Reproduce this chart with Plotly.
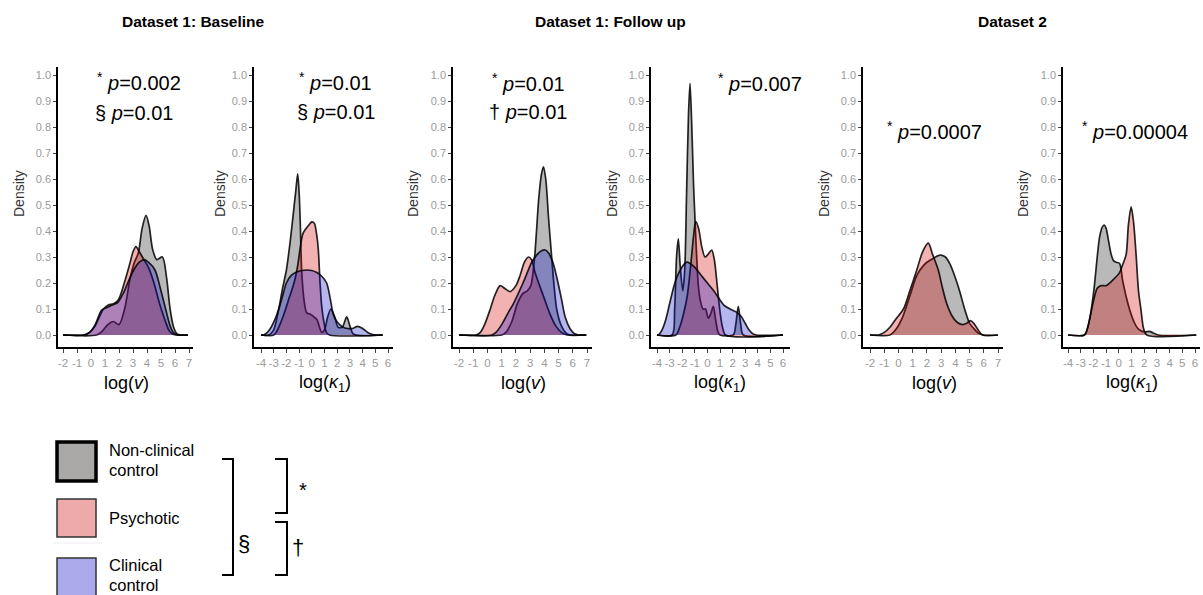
import plotly.graph_objects as go

W, H = 1203, 595

# ---------------- data ----------------
TITLES = ["Dataset 1: Baseline", "Dataset 1: Follow up", "Dataset 2"]
XLABEL_V = "log(<i>v</i>)"
XLABEL_K = "log(<i>κ</i><sub>1</sub>)"
Y_TICKS = [0.0, 0.1, 0.2, 0.3, 0.4, 0.5, 0.6, 0.7, 0.8, 0.9, 1.0]
Y_TICK_LABELS = ["0.0", "0.1", "0.2", "0.3", "0.4", "0.5", "0.6", "0.7", "0.8", "0.9", "1.0"]
X_TICKS_V = [-2, -1, 0, 1, 2, 3, 4, 5, 6, 7]
X_TICK_LABELS_V = ["-2", "-1", "0", "1", "2", "3", "4", "5", "6", "7"]
X_TICKS_K = [-4, -3, -2, -1, 0, 1, 2, 3, 4, 5, 6]
X_TICK_LABELS_K = ["-4", "-3", "-2", "-1", "0", "1", "2", "3", "4", "5", "6"]
GROUPS = ["Non-clinical control", "Psychotic", "Clinical control"]

# Panel 1: Dataset 1 baseline, log(v)
p1_nc_x = [-2, 0.4, 0.8, 1.2, 1.6, 2.0, 2.4, 2.8, 3.1, 3.38, 3.65, 3.93, 4.15, 4.4, 4.7, 5.1, 5.4, 5.65, 5.9, 6.15, 6.93]
p1_nc_y = [0, 0, 0.015, 0.04, 0.052, 0.04, 0.1, 0.22, 0.28, 0.315, 0.41, 0.46, 0.42, 0.33, 0.29, 0.30, 0.22, 0.1, 0.03, 0.004, 0]
p1_ps_x = [-2, -0.5, -0.1, 0.3, 0.6, 0.9, 1.24, 1.6, 1.95, 2.43, 2.8, 3.0, 3.21, 3.45, 3.67, 4.1, 4.5, 4.9, 5.3, 5.6, 5.9, 6.93]
p1_ps_y = [0, 0, 0.01, 0.035, 0.07, 0.1, 0.115, 0.12, 0.135, 0.21, 0.28, 0.32, 0.34, 0.32, 0.30, 0.26, 0.2, 0.12, 0.055, 0.015, 0.002, 0]
p1_cc_x = [-2, -0.5, -0.1, 0.3, 0.76, 1.1, 1.5, 1.9, 2.3, 2.7, 3.1, 3.45, 3.81, 4.1, 4.57, 4.95, 5.4, 5.65, 5.9, 6.2, 6.93]
p1_cc_y = [0, 0, 0.01, 0.04, 0.096, 0.105, 0.115, 0.125, 0.16, 0.21, 0.255, 0.28, 0.29, 0.28, 0.25, 0.18, 0.085, 0.035, 0.008, 0, 0]

# Panel 2: Dataset 1 baseline, log(kappa1)
p2_nc_x = [-4, -3.4, -3.0, -2.6, -2.3, -2.0, -1.7, -1.45, -1.25, -1.11, -1.0, -0.9, -0.8, -0.6, -0.4, -0.1, 0.15, 0.4, 0.78, 1.0, 1.25, 1.5, 1.8, 2.07, 2.4, 2.75, 3.0, 3.3, 5.58]
p2_nc_y = [0, 0, 0.02, 0.1, 0.18, 0.25, 0.36, 0.47, 0.56, 0.62, 0.55, 0.42, 0.25, 0.13, 0.085, 0.08, 0.07, 0.06, 0.01, 0.02, 0.07, 0.1, 0.07, 0.03, 0.03, 0.07, 0.035, 0.003, 0]
p2_ps_x = [-4, -3.0, -2.6, -2.2, -1.8, -1.4, -1.1, -0.9, -0.7, -0.45, -0.2, 0.0, 0.2, 0.4, 0.51, 0.65, 0.78, 0.95, 1.15, 1.4, 5.58]
p2_ps_y = [0, 0, 0.03, 0.08, 0.14, 0.2, 0.27, 0.34, 0.39, 0.41, 0.425, 0.435, 0.43, 0.38, 0.33, 0.2, 0.11, 0.05, 0.01, 0, 0]
p2_cc_x = [-4, -3.8, -3.5, -3.2, -2.9, -2.6, -2.3, -2.0, -1.6, -1.2, -0.8, -0.4, 0.0, 0.4, 0.8, 1.17, 1.45, 1.69, 2.0, 2.46, 2.8, 3.2, 3.6, 4.0, 4.4, 4.8, 5.58]
p2_cc_y = [0, 0, 0.01, 0.03, 0.06, 0.1, 0.15, 0.2, 0.23, 0.242, 0.248, 0.25, 0.248, 0.24, 0.225, 0.2, 0.14, 0.08, 0.05, 0.03, 0.025, 0.025, 0.033, 0.025, 0.01, 0.002, 0]

# Panel 3: Dataset 1 follow up, log(v)
p3_nc_x = [-2, 1.0, 1.3, 1.7, 2.1, 2.5, 2.8, 3.05, 3.3, 3.45, 3.6, 3.8, 3.94, 4.1, 4.29, 4.53, 4.7, 4.88, 5.2, 5.58, 5.9, 6.95]
p3_nc_y = [0, 0, 0.01, 0.05, 0.12, 0.16, 0.17, 0.19, 0.29, 0.4, 0.52, 0.62, 0.647, 0.6, 0.455, 0.29, 0.18, 0.096, 0.035, 0.005, 0, 0]
p3_ps_x = [-2, -0.8, -0.5, -0.2, 0.2, 0.5, 0.89, 1.2, 1.59, 2.0, 2.3, 2.6, 2.88, 3.1, 3.35, 3.6, 4.0, 4.4, 4.8, 5.2, 5.6, 6.95]
p3_ps_y = [0, 0, 0.01, 0.04, 0.1, 0.15, 0.19, 0.18, 0.167, 0.19, 0.23, 0.28, 0.30, 0.29, 0.24, 0.2, 0.14, 0.08, 0.035, 0.01, 0, 0]
p3_cc_x = [-2, 0.3, 0.6, 1.0, 1.5, 1.82, 2.5, 3.12, 3.5, 3.8, 4.06, 4.3, 4.6, 4.88, 5.2, 5.46, 5.8, 6.1, 6.4, 6.95]
p3_cc_y = [0, 0, 0.01, 0.04, 0.09, 0.12, 0.2, 0.28, 0.31, 0.324, 0.327, 0.315, 0.28, 0.22, 0.14, 0.07, 0.025, 0.006, 0, 0]

# Panel 4: Dataset 1 follow up, log(kappa1)
p4_nc_x = [-4, -2.8, -2.6, -2.45, -2.31, -2.15, -1.95, -1.8, -1.65, -1.5, -1.38, -1.25, -1.1, -0.98, -0.85, -0.72, -0.55, -0.35, -0.15, 0.07, 0.25, 0.47, 0.65, 0.85, 1.0, 2.05, 2.25, 2.45, 2.65, 2.85, 6]
p4_nc_y = [0, 0, 0.1, 0.3, 0.37, 0.26, 0.17, 0.25, 0.55, 0.85, 0.968, 0.82, 0.58, 0.44, 0.3, 0.19, 0.13, 0.1, 0.1, 0.065, 0.08, 0.11, 0.06, 0.01, 0, 0, 0.04, 0.11, 0.04, 0, 0]
p4_ps_x = [-4, -2.5, -2.2, -1.9, -1.6, -1.3, -1.1, -0.93, -0.7, -0.45, -0.19, 0.05, 0.34, 0.55, 0.8, 1.0, 1.2, 1.45, 6]
p4_ps_y = [0, 0, 0.03, 0.08, 0.15, 0.28, 0.38, 0.436, 0.41, 0.34, 0.3, 0.31, 0.327, 0.29, 0.18, 0.09, 0.03, 0, 0]
p4_cc_x = [-4, -3.9, -3.6, -3.3, -3.0, -2.7, -2.44, -2.1, -1.8, -1.57, -1.3, -1.0, -0.5, 0.0, 0.5, 1.0, 1.3, 1.8, 2.3, 2.7, 3.0, 3.3, 3.6, 3.9, 6]
p4_cc_y = [0, 0, 0.02, 0.06, 0.12, 0.18, 0.22, 0.255, 0.275, 0.28, 0.272, 0.26, 0.23, 0.2, 0.17, 0.135, 0.115, 0.1, 0.088, 0.07, 0.045, 0.02, 0.005, 0, 0]

# Panel 5: Dataset 2, log(v)
p5_nc_x = [-2, -0.6, -0.2, 0.3, 0.8, 1.3, 1.8, 2.3, 2.93, 3.3, 3.65, 4.0, 4.35, 4.6, 4.8, 5.0, 5.3, 5.6, 6.0, 7]
p5_nc_y = [0, 0, 0.02, 0.07, 0.15, 0.23, 0.27, 0.29, 0.307, 0.3, 0.27, 0.22, 0.16, 0.11, 0.075, 0.045, 0.025, 0.008, 0, 0]
p5_ps_x = [-2, -1.4, -1.0, -0.6, -0.2, 0.35, 0.8, 1.29, 1.7, 2.1, 2.4, 2.8, 3.1, 3.4, 3.75, 4.1, 4.5, 4.8, 5.05, 5.3, 5.6, 5.9, 7]
p5_ps_y = [0, 0, 0.01, 0.03, 0.06, 0.1, 0.17, 0.25, 0.32, 0.353, 0.31, 0.25, 0.18, 0.12, 0.075, 0.05, 0.04, 0.045, 0.055, 0.045, 0.02, 0, 0]

# Panel 6: Dataset 2, log(kappa1)
p6_nc_x = [-4, -2.7, -2.5, -2.3, -2.1, -1.9, -1.7, -1.5, -1.3, -1.16, -1.0, -0.8, -0.6, -0.4, -0.2, 0.06, 0.3, 0.58, 0.9, 1.2, 1.5, 1.8, 2.1, 2.4, 2.7, 3.1, 6.1]
p6_nc_y = [0, 0, 0.02, 0.06, 0.12, 0.2, 0.3, 0.38, 0.415, 0.423, 0.41, 0.36, 0.31, 0.285, 0.28, 0.275, 0.21, 0.147, 0.09, 0.05, 0.025, 0.015, 0.012, 0.014, 0.008, 0, 0]
p6_ps_x = [-4, -2.7, -2.5, -2.3, -2.0, -1.7, -1.4, -1.0, -0.5, 0.06, 0.3, 0.58, 0.75, 0.97, 1.15, 1.36, 1.55, 1.75, 1.95, 2.2, 6.1]
p6_ps_y = [0, 0, 0.02, 0.06, 0.13, 0.18, 0.19, 0.19, 0.21, 0.24, 0.27, 0.31, 0.42, 0.493, 0.44, 0.31, 0.17, 0.096, 0.025, 0, 0]

P_TEXTS = [
    ["<sup>*</sup> <i>p</i>=0.002", "§ <i>p</i>=0.01"],
    ["<sup>*</sup> <i>p</i>=0.01", "§ <i>p</i>=0.01"],
    ["<sup>*</sup> <i>p</i>=0.01", "† <i>p</i>=0.01"],
    ["<sup>*</sup> <i>p</i>=0.007"],
    ["<sup>*</sup> <i>p</i>=0.0007"],
    ["<sup>*</sup> <i>p</i>=0.00004"],
]

# ---------------- styles ----------------
FILL = {
    "Non-clinical control": "rgba(128,128,128,0.55)",
    "Psychotic": "rgba(215,0,0,0.3)",
    "Clinical control": "rgba(20,20,200,0.31)",
}
LINE_COLOR = "rgba(0,0,0,0.85)"
FONT = "Liberation Sans, Arial, Helvetica, sans-serif"


def px_x(p):
    return p / W


def px_y(p):
    return 1 - p / H


# pixel geometry of each panel: axis left, first tick px, last tick px, axis right
geom = [
    (58, 63, 189, 193),
    (254, 261, 388, 393),
    (453, 459, 587, 592),
    (651, 657, 783, 790),
    (863, 870, 998, 1003),
    (1063, 1068, 1195, 1200),
]
AX_TOP, AX_BOTTOM, Y0_PX, Y1_PX = 67, 347, 335, 75

panels = [
    dict(ticks=X_TICKS_V, labels=X_TICK_LABELS_V, xlabel=XLABEL_V,
         curves=[(GROUPS[0], p1_nc_x, p1_nc_y), (GROUPS[1], p1_ps_x, p1_ps_y), (GROUPS[2], p1_cc_x, p1_cc_y)]),
    dict(ticks=X_TICKS_K, labels=X_TICK_LABELS_K, xlabel=XLABEL_K,
         curves=[(GROUPS[0], p2_nc_x, p2_nc_y), (GROUPS[1], p2_ps_x, p2_ps_y), (GROUPS[2], p2_cc_x, p2_cc_y)]),
    dict(ticks=X_TICKS_V, labels=X_TICK_LABELS_V, xlabel=XLABEL_V,
         curves=[(GROUPS[0], p3_nc_x, p3_nc_y), (GROUPS[1], p3_ps_x, p3_ps_y), (GROUPS[2], p3_cc_x, p3_cc_y)]),
    dict(ticks=X_TICKS_K, labels=X_TICK_LABELS_K, xlabel=XLABEL_K,
         curves=[(GROUPS[0], p4_nc_x, p4_nc_y), (GROUPS[1], p4_ps_x, p4_ps_y), (GROUPS[2], p4_cc_x, p4_cc_y)]),
    dict(ticks=X_TICKS_V, labels=X_TICK_LABELS_V, xlabel=XLABEL_V,
         curves=[(GROUPS[0], p5_nc_x, p5_nc_y), (GROUPS[1], p5_ps_x, p5_ps_y)]),
    dict(ticks=X_TICKS_K, labels=X_TICK_LABELS_K, xlabel=XLABEL_K,
         curves=[(GROUPS[0], p6_nc_x, p6_nc_y), (GROUPS[1], p6_ps_x, p6_ps_y)]),
]

density_x = [19, 220, 413, 612, 824, 1023]
ptext_pos = [
    [(95, 82), (93, 113)],
    [(297, 82), (295, 112)],
    [(490, 83), (487, 112)],
    [(716, 83)],
    [(885, 130)],
    [(1080, 130)],
]

fig = go.Figure()
layout = dict(
    width=W, height=H, margin=dict(l=0, r=0, t=0, b=0),
    paper_bgcolor="white", plot_bgcolor="white",
    showlegend=False, font=dict(family=FONT, color="black"),
)
annotations = []
shapes = []

y_per_px = 1.0 / (Y0_PX - Y1_PX)
y_range = [-(AX_BOTTOM - Y0_PX) * y_per_px, 1 + (Y1_PX - AX_TOP) * y_per_px]

for i, (p, g) in enumerate(zip(panels, geom), start=1):
    left, t0, t1, right = g
    ticks = p["ticks"]
    upp = (ticks[-1] - ticks[0]) / (t1 - t0)
    x_range = [ticks[0] - (t0 - left) * upp, ticks[-1] + (right - t1) * upp]
    xa = "x" if i == 1 else f"x{i}"
    ya = "y" if i == 1 else f"y{i}"
    for name, xs, ys in p["curves"]:
        fig.add_trace(go.Scatter(
            x=xs, y=ys, xaxis=xa, yaxis=ya, mode="lines", name=name,
            fill="tozeroy", fillcolor=FILL[name],
            line=dict(color=LINE_COLOR, width=1.7, shape="spline", smoothing=0.8),
            hoverinfo="skip",
        ))
    key = "" if i == 1 else str(i)
    layout["xaxis" + key] = dict(
        domain=[px_x(left), px_x(right)], range=x_range, anchor=ya,
        tickmode="array", tickvals=ticks, ticktext=p["labels"],
        showline=True, linecolor="black", linewidth=1.5,
        ticks="outside", ticklen=4, tickwidth=1, tickcolor="#444",
        tickfont=dict(size=11.5, color="#9a9a9a", family=FONT),
        showgrid=False, zeroline=False, fixedrange=True,
    )
    layout["yaxis" + key] = dict(
        domain=[px_y(AX_BOTTOM), px_y(AX_TOP)], range=y_range, anchor=xa,
        tickmode="array", tickvals=Y_TICKS, ticktext=Y_TICK_LABELS,
        showline=True, linecolor="black", linewidth=1.5,
        ticks="outside", ticklen=3, tickwidth=1, tickcolor="#444",
        tickfont=dict(size=11, color="#9a9a9a", family=FONT),
        showgrid=False, zeroline=False, fixedrange=True,
    )
    # x-axis title
    annotations.append(dict(
        text=p["xlabel"], x=px_x((t0 + t1) / 2), y=px_y(383), xref="paper", yref="paper",
        xanchor="center", yanchor="middle", showarrow=False,
        font=dict(size=18, color="black", family=FONT),
    ))
    # y-axis title
    annotations.append(dict(
        text="Density", x=px_x(density_x[i - 1]), y=px_y(194), xref="paper", yref="paper",
        xanchor="center", yanchor="middle", showarrow=False, textangle=-90,
        font=dict(size=14, color="#333", family=FONT),
    ))
    for txt, (tx, ty) in zip(P_TEXTS[i - 1], ptext_pos[i - 1]):
        annotations.append(dict(
            text=txt, x=px_x(tx), y=px_y(ty), xref="paper", yref="paper",
            xanchor="left", yanchor="middle", showarrow=False,
            font=dict(size=20, color="black", family=FONT),
        ))

# section titles
for title, cx in zip(TITLES, [193, 610, 1012]):
    annotations.append(dict(
        text=f"<b>{title}</b>", x=px_x(cx), y=px_y(22), xref="paper", yref="paper",
        xanchor="center", yanchor="middle", showarrow=False,
        font=dict(size=15.5, color="black", family=FONT),
    ))

# legend squares
legend_boxes = [
    (GROUPS[0], 442, 481, 3.5, "#aaa7a7", "black"),
    (GROUPS[1], 499, 537, 1.5, "#eeaaaa", "#333"),
    (GROUPS[2], 558, 598, 1.5, "#aaaaea", "#333"),
]
for name, top, bottom, lw, fc, lc in legend_boxes:
    shapes.append(dict(
        type="rect", xref="paper", yref="paper",
        x0=px_x(57), x1=px_x(96), y0=px_y(bottom), y1=px_y(top),
        fillcolor=fc, line=dict(color=lc, width=lw),
    ))
shapes.append(dict(type="line", xref="paper", yref="paper",
                   x0=px_x(53), x1=px_x(102), y0=px_y(543), y1=px_y(543),
                   line=dict(color="#eeeeee", width=1)))

legend_lines = [("Non-clinical", 450), ("control", 470), ("Psychotic", 518),
                ("Clinical", 565), ("control", 585)]
for txt, ty in legend_lines:
    annotations.append(dict(
        text=txt, x=px_x(107), y=px_y(ty), xref="paper", yref="paper",
        xanchor="left", yanchor="middle", showarrow=False,
        font=dict(size=16.5, color="black", family=FONT),
    ))


def bracket(xl, xr, yt, yb):
    return (f"M {px_x(xl)},{px_y(yt)} L {px_x(xr)},{px_y(yt)} "
            f"L {px_x(xr)},{px_y(yb)} L {px_x(xl)},{px_y(yb)}")


for xl, xr, yt, yb in [(222, 233, 459, 575), (275, 287, 459, 513), (275, 287, 522, 575)]:
    shapes.append(dict(type="path", xref="paper", yref="paper", path=bracket(xl, xr, yt, yb),
                       line=dict(color="black", width=2)))

for sym, sx, sy, size in [("§", 244, 543, 22), ("*", 303, 490, 20), ("†", 298, 547, 22)]:
    annotations.append(dict(
        text=sym, x=px_x(sx), y=px_y(sy), xref="paper", yref="paper",
        xanchor="center", yanchor="middle", showarrow=False,
        font=dict(size=size, color="black", family=FONT),
    ))

layout["annotations"] = annotations
layout["shapes"] = shapes
fig.update_layout(**layout)
fig.write_html("out.html", config={"displayModeBar": False},
               post_script="document.body.style.margin='0';")
